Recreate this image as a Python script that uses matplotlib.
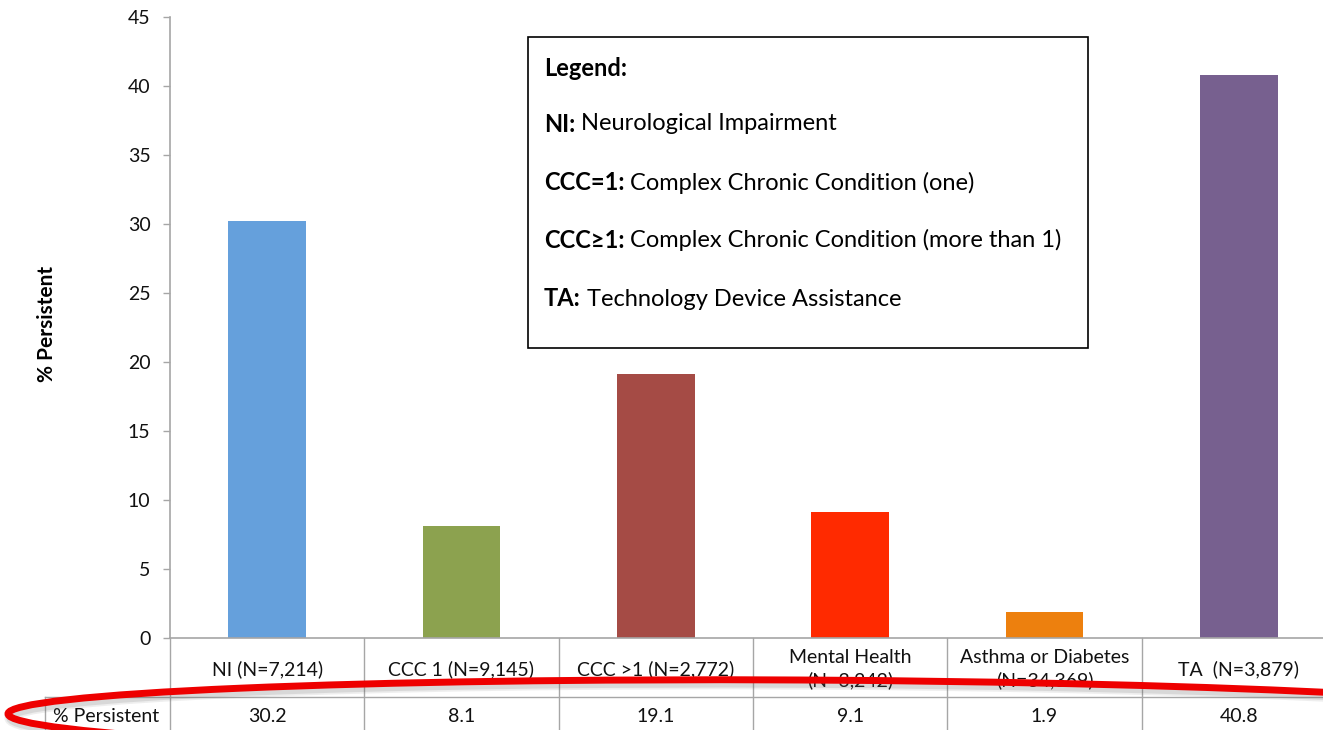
import matplotlib
matplotlib.use("Agg")
import matplotlib.pyplot as plt
from matplotlib.patches import Ellipse, Rectangle
from matplotlib.transforms import blended_transform_factory, Affine2D
import numpy as np

categories = ["NI (N=7,214)", "CCC 1 (N=9,145)", "CCC >1 (N=2,772)",
              "Mental Health\n(N=3,242)", "Asthma or Diabetes\n(N=34,369)", "TA  (N=3,879)"]
values = [30.2, 8.1, 19.1, 9.1, 1.9, 40.8]
colors = ["#65a0dc", "#8ca24f", "#a54b45", "#ff2a00", "#ed800e", "#77608f"]
yticks = [0, 5, 10, 15, 20, 25, 30, 35, 40, 45]
row_label = "% Persistent"
legend_title = "Legend:"
legend_items = [("NI:", "Neurological Impairment"),
                ("CCC=1:", "Complex Chronic Condition (one)"),
                ("CCC\u22651:", "Complex Chronic Condition (more than 1)"),
                ("TA:", "Technology Device Assistance")]

plt.rcParams['font.family'] = ['Lato', 'DejaVu Sans']
W, H = 1323, 730
fig = plt.figure(figsize=(W / 100, H / 100), dpi=100)

def fx(px):
    return px / W

def fy(py):
    return 1 - py / H

grid_col = "#a6a6a6"
text_col = "#111111"
fs = 14

ax = fig.add_axes([fx(170), fy(638), fx(1336) - fx(170), fy(17) - fy(638)])
x = np.arange(len(categories))
ax.bar(x, values, width=0.4, color=colors, zorder=2)
ax.set_xlim(-0.5, len(categories) - 0.5)
ax.set_ylim(0, 45)
ax.set_yticks(yticks)
ax.set_xticks([])
ax.tick_params(axis='y', length=5, width=1, color=grid_col, pad=9,
               labelsize=fs, labelcolor=text_col)
for s in ["top", "right"]:
    ax.spines[s].set_visible(False)
for s in ["left", "bottom"]:
    ax.spines[s].set_color(grid_col)
    ax.spines[s].set_linewidth(1.2)

fig.text(fx(47), fy(324), "% Persistent", rotation=90, ha='center', va='center',
         fontsize=15, fontweight='bold', color='black')

# table below the axes
tr = blended_transform_factory(ax.transData, ax.transAxes)
r1_bot = -(697 - 638) / 621
r2_bot = -0.2
r1_mid = -(669 - 638) / 621
r2_mid = -(716 - 638) / 621
n = len(categories)
for i in range(n + 1):
    ax.plot([i - 0.5, i - 0.5], [0, r2_bot], transform=tr, color=grid_col, lw=1,
            clip_on=False, zorder=1)
ax.plot([-0.5, n - 0.5], [r1_bot, r1_bot], transform=tr, color=grid_col, lw=1, clip_on=False)
for i, (c, v) in enumerate(zip(categories, values)):
    ax.text(i, r1_mid, c, transform=tr, ha='center', va='center', fontsize=fs,
            color=text_col, linespacing=1.3, clip_on=False)
    ax.text(i, r2_mid, f"{v:.1f}", transform=tr, ha='center', va='center', fontsize=fs,
            color=text_col, clip_on=False)
lx0 = (45 - 170) / 1166
ax.plot([lx0, 0], [r1_bot, r1_bot], transform=ax.transAxes, color=grid_col, lw=1, clip_on=False)
ax.plot([lx0, lx0], [r1_bot, r2_bot], transform=ax.transAxes, color=grid_col, lw=1, clip_on=False)
ax.text((106 - 170) / 1166, r2_mid, row_label, transform=ax.transAxes, ha='center',
        va='center', fontsize=fs, color=text_col, clip_on=False)

# legend box
ov = fig.add_axes([0, 0, 1, 1], facecolor='none')
ov.set_xlim(0, W)
ov.set_ylim(H, 0)
ov.axis('off')
ov.add_patch(Rectangle((528, 37), 560, 311, fill=False, ec='black', lw=1.2))
lfs = 17
ov.text(544, 68, legend_title, fontsize=lfs, fontweight='bold', va='center', ha='left',
        color='black')
ys = [124, 183, 240, 299]
for (b, t), yy in zip(legend_items, ys):
    bt = ov.text(544, yy, b, fontsize=lfs, fontweight='bold', va='center', ha='left',
                 color='black')
    ov.annotate(" " + t, xy=(1, 0.5), xycoords=bt, va='center', ha='left',
                fontsize=lfs, color='black')

# red ellipse annotation with soft shadow
for k, a in [(8, 0.10), (5.5, 0.15)]:
    ov.add_patch(Ellipse((800, 718), 1584, 76, angle=0.3, fill=False, ec='#606060',
                         lw=k, alpha=a,
                         transform=ov.transData + Affine2D().translate(2, -4)))
ov.add_patch(Ellipse((800, 718), 1584, 76, angle=0.3, fill=False, ec='#ee0000', lw=5))

fig.savefig("out.png", dpi=100)
